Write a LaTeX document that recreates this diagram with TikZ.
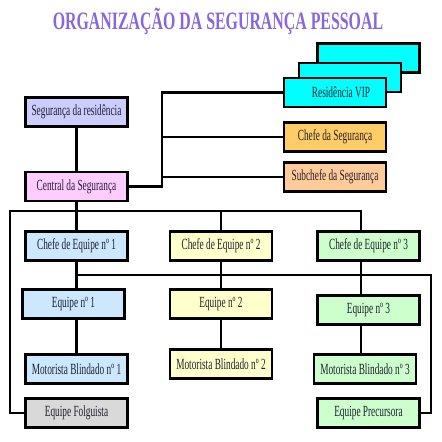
\documentclass[tikz,border=0pt]{standalone}
\usepackage{fontspec}
\newfontfamily\boxfont[FakeStretch=0.6]{Liberation Serif}
\newfontfamily\titlefont[FakeStretch=0.635]{Liberation Serif}
\definecolor{titlecol}{HTML}{8866DD}
\definecolor{txtcol}{HTML}{202030}
\definecolor{cyanc}{HTML}{00FFFF}
\definecolor{lav}{HTML}{CCCCFF}
\definecolor{pinkc}{HTML}{FFCCFF}
\definecolor{orangec}{HTML}{FFCC66}
\definecolor{peach}{HTML}{FFCC99}
\definecolor{blueb}{HTML}{CCE8FF}
\definecolor{yellb}{HTML}{FFFFCC}
\definecolor{greenb}{HTML}{CCFFCC}
\definecolor{greyb}{HTML}{D9D9D9}
\begin{document}
\begin{tikzpicture}[x=1pt,y=-1pt,
  box/.style={draw=black, line width=2.6pt, minimum width=102pt, minimum height=29pt,
    inner sep=0pt, font=\boxfont\fontsize{15.5}{17}\selectfont, text=txtcol},
  link/.style={draw=black, line width=2.3pt}]
\fill[white] (0,0) rectangle (442,442);
\useasboundingbox (0,0) rectangle (442,442);
\node[font=\titlefont\bfseries\fontsize{25}{28}\selectfont, text=titlecol] (title) at (218,21.5) {ORGANIZAÇÃO DA SEGURANÇA PESSOAL};
% cyan stack
\node[box, fill=cyanc] (vipback) at (368.5,58) {};
\node[box, fill=cyanc] (vipmid) at (350,77.5) {};
\node[box, fill=cyanc] (resvip) at (335,92.5) {\hspace*{12pt}Residência VIP};
\node[box, fill=lav] (segres) at (76.5,112) {Segurança da residência};
\node[box, fill=pinkc] (central) at (76.5,186.5) {Central da Segurança};
\node[box, fill=orangec] (chefeseg) at (335,137) {Chefe da Segurança};
\node[box, fill=peach] (subchefe) at (335,177) {Subchefe da Segurança};
\node[box, fill=blueb] (chefe1) at (76.5,246) {Chefe de Equipe nº 1};
\node[box, fill=yellb] (chefe2) at (221,246) {Chefe de Equipe nº 2};
\node[box, fill=greenb] (chefe3) at (368.5,246) {Chefe de Equipe nº 3};
\node[box, fill=blueb] (eq1) at (73.5,304) {Equipe nº 1};
\node[box, fill=yellb] (eq2) at (221,304) {Equipe nº 2};
\node[box, fill=greenb] (eq3) at (368.5,310) {Equipe nº 3};
\node[box, fill=blueb] (mot1) at (76.5,369) {Motorista Blindado nº 1};
\node[box, fill=yellb] (mot2) at (221,364) {Motorista Blindado nº 2};
\node[box, fill=greenb] (mot3) at (365,369) {Motorista Blindado nº 3};
\node[box, fill=greyb] (folg) at (76.5,413) {Equipe Folguista};
\node[box, fill=greenb] (prec) at (368.5,413) {Equipe Precursora};
% coordinates
\coordinate (jx) at (162,0);
\coordinate (lb) at (10,211);
\coordinate (c3) at (361,0);
\coordinate (rb) at (431,275);
% connectors
\draw[link] (segres) -- (central);
\draw[link] (central.east) -| (jx |- resvip.west) -- (resvip.west);
\draw[link] (jx |- chefeseg.west) -- (chefeseg.west);
\draw[link] (jx |- subchefe.west) -- (subchefe.west);
\draw[link] (central) -- (chefe1);
\draw[link] (folg.west) -| (lb) -| (c3 |- chefe3.north);
\draw[link] (chefe2.north |- lb) -- (chefe2.north);
\draw[link] (chefe1.south) -- (chefe1.south |- eq1.north);
\draw[link] (mot1.north |- eq1.south) -- (mot1.north);
\draw[link] (chefe1.south |- rb) -- (rb) |- (prec.east);
\draw[link] (chefe2) -- (eq2);
\draw[link] (eq2) -- (mot2);
\draw[link] (c3 |- chefe3.south) -- (c3 |- eq3.north);
\draw[link] (c3 |- eq3.south) -- (c3 |- mot3.north);
\end{tikzpicture}
\end{document}
